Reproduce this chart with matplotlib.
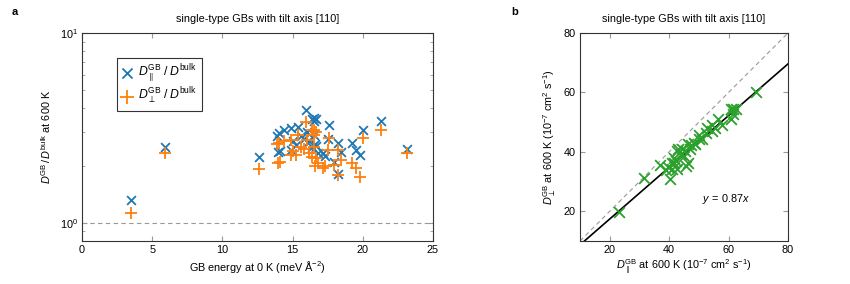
import matplotlib
matplotlib.use("Agg")
import matplotlib.pyplot as plt
import numpy as np

plt.rcParams['font.family'] = ['Liberation Sans', 'DejaVu Sans']
plt.rcParams['mathtext.fontset'] = 'custom'
plt.rcParams['mathtext.rm'] = 'Liberation Sans'
plt.rcParams['mathtext.it'] = 'Liberation Sans:italic'
plt.rcParams['mathtext.bf'] = 'Liberation Sans:bold'
plt.rcParams['font.size'] = 7.8

# GB energy at 0 K (meV/Å^2)
energy = [3.48, 5.93, 12.64, 13.90, 14.03, 14.40, 14.90, 15.38, 13.95, 14.07,
          14.90, 15.26, 16.20, 16.80, 15.60, 15.98, 16.50, 16.55, 16.67, 17.60,
          17.50, 18.24, 17.20, 19.20, 20.02, 19.55, 19.79, 17.95, 18.24, 18.48,
          21.29, 23.12, 16.40, 16.50, 16.00, 15.00, 16.35, 17.30, 16.60, 16.70,
          15.80]
# D_parallel^GB / D^bulk
ratio_par = [1.31, 2.52, 2.22, 2.85, 2.97, 3.09, 3.15, 3.21, 2.37, 2.40,
             2.42, 2.57, 2.68, 2.33, 2.85, 3.93, 3.56, 3.45, 3.50, 3.28,
             2.76, 2.63, 2.33, 2.63, 3.09, 2.42, 2.28, 2.10, 1.80, 2.37,
             3.45, 2.44, 2.50, 2.90, 3.00, 2.70, 3.50, 2.25, 2.60, 2.55,
             2.75]
# D_perp^GB / D^bulk
ratio_perp = [1.12, 2.33, 1.92, 2.60, 2.63, 2.68, 2.73, 2.90, 2.06, 2.10,
              2.28, 2.28, 2.33, 2.06, 2.52, 3.41, 3.09, 2.90, 3.00, 2.79,
              2.42, 2.42, 1.94, 2.06, 2.79, 1.94, 1.75, 2.02, 1.78, 2.15,
              3.09, 2.33, 2.23, 2.52, 2.73, 2.40, 3.09, 1.98, 2.00, 2.20,
              2.45]
# bulk diffusion coefficient at 600 K (1e-7 cm^2/s)
D_bulk = 17.6
fit_slope = 0.87

energy = np.array(energy)
ratio_par = np.array(ratio_par)
ratio_perp = np.array(ratio_perp)
D_par = ratio_par * D_bulk
D_perp = ratio_perp * D_bulk

blue = '#1f77b4'
orange = '#ff7f0e'
green = '#2ca02c'

fig = plt.figure(figsize=(8.5, 2.84), dpi=100)
ax1 = fig.add_axes([82/850, 43/284, 351/850, 208/284])
ax2 = fig.add_axes([580/850, 43/284, 208/850, 208/284])

def style(ax):
    ax.tick_params(which='both', direction='in', top=True, right=True,
                   color='#999999', labelsize=7.8, pad=3)
    ax.tick_params(which='major', length=3.5)
    ax.tick_params(which='minor', length=2)
    for s in ax.spines.values():
        s.set_color('#333333')
        s.set_linewidth(0.8)

# Panel a
ax1.axhline(1.0, color='#999999', ls=(0, (4, 3)), lw=0.8, zorder=1)
ax1.scatter(energy, ratio_par, marker='x', s=40, color=blue, lw=1.3,
            label=r'$D_{\parallel}^{\mathrm{GB}}\;/\;D^{\mathrm{bulk}}$', zorder=3)
ax1.scatter(energy, ratio_perp, marker='+', s=80, color=orange, lw=1.3,
            label=r'$D_{\perp}^{\mathrm{GB}}\;/\;D^{\mathrm{bulk}}$', zorder=3)
ax1.set_yscale('log')
ax1.set_xlim(0, 25)
ax1.set_ylim(0.8, 10)
ax1.set_xticks([0, 5, 10, 15, 20, 25])
ax1.set_yticks([1, 10])
ax1.set_yticklabels([r'$10^{0}$', r'$10^{1}$'])
style(ax1)
ax1.set_xlabel(r'GB energy at 0 K (meV $\mathrm{\AA}^{-2}$)', labelpad=3)
ax1.set_ylabel(r'$D^{\mathrm{GB}}\,/\,D^{\mathrm{bulk}}$ at 600 K', labelpad=5)
ax1.set_title('single-type GBs with tilt axis [110]', fontsize=7.8, pad=8)
leg = ax1.legend(loc='upper left', bbox_to_anchor=(0.100, 0.88), fancybox=False,
                 edgecolor='#333333', framealpha=1, handlelength=1.0,
                 handletextpad=0.4, borderpad=0.35, labelspacing=0.12,
                 fontsize=8.8, markerscale=1.15, borderaxespad=0)
leg.get_frame().set_linewidth(0.8)

# Panel b
xx = np.array([10, 80])
ax2.plot(xx, xx, color='#999999', ls=(0, (4, 3)), lw=0.8, zorder=1)
ax2.plot(xx, fit_slope * xx, color='black', lw=1.2, zorder=2)
ax2.scatter(D_par, D_perp, marker='x', s=60, color=green, lw=1.3, zorder=3)
ax2.set_xlim(10, 80)
ax2.set_ylim(10, 80)
ax2.set_xticks([20, 40, 60, 80])
ax2.set_yticks([20, 40, 60, 80])
style(ax2)
ax2.text(59, 24, r'$y\,=\,0.87x$', ha='center', va='center', fontsize=7.8)
ax2.set_xlabel(r'$D_{\parallel}^{\mathrm{GB}}$ at 600 K ($10^{-7}$ cm$^{2}$ s$^{-1}$)', labelpad=2)
ax2.set_ylabel(r'$D_{\perp}^{\mathrm{GB}}$ at 600 K ($10^{-7}$ cm$^{2}$ s$^{-1}$)', labelpad=4)
ax2.set_title('single-type GBs with tilt axis [110]', fontsize=7.8, pad=8)

fig.text(15/850, 1 - 12/284, 'a', fontweight='bold', fontsize=8, ha='center', va='center')
fig.text(515/850, 1 - 12/284, 'b', fontweight='bold', fontsize=8, ha='center', va='center')

fig.savefig('out.png', dpi=100)
